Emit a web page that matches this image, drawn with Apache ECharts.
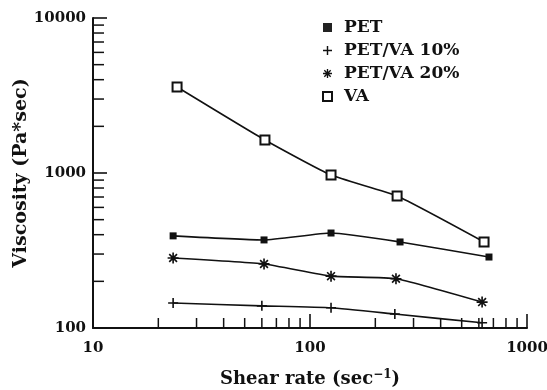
<!DOCTYPE html>
<html>
<head>
<meta charset="utf-8">
<script src="https://cdn.jsdelivr.net/npm/echarts@6/dist/echarts.min.js"></script>
<style>
html,body{margin:0;padding:0;background:#fff;}
#chart{width:547px;height:390px;}
</style>
</head>
<body>
<div id="chart"></div>
<script>
// ---- data ----
const seriesNames = ['PET', 'PET/VA 10%', 'PET/VA 20%', 'VA'];
const petRate = [23.4, 61.4, 125, 260, 668];
const petVisc = [393, 370, 410, 359, 287];
const va10Rate = [23.4, 60, 125, 246, 621];
const va10Visc = [145, 139, 135, 123, 108];
const va20Rate = [23.4, 61.4, 125, 249, 621];
const va20Visc = [283, 259, 216, 208, 147];
const vaRate = [24.4, 62, 125, 252, 634];
const vaVisc = [3590, 1633, 970, 711, 359];
const xMinorTicks = [20, 30, 40, 50, 60, 70, 80, 90, 200, 300, 400, 500, 600, 700, 800, 900];
const yMinorTicks = [200, 300, 400, 500, 600, 700, 800, 900, 2000, 3000, 4000, 5000, 6000, 7000, 8000, 9000];

const FONT = 'DejaVu Serif';
const PLUS = 'path://M-0.8,-5 L0.8,-5 L0.8,-0.8 L5,-0.8 L5,0.8 L0.8,0.8 L0.8,5 L-0.8,5 L-0.8,0.8 L-5,0.8 L-5,-0.8 L-0.8,-0.8 Z';
const STAR = 'path://M-5,-0.75 L5,-0.75 L5,0.75 L-5,0.75 Z M0.75,-5 L0.75,5 L-0.75,5 L-0.75,-5 Z ' +
  'M-3.01,-4.07 L4.07,3.01 L3.01,4.07 L-4.07,-3.01 Z M-4.07,3.01 L3.01,-4.07 L4.07,-3.01 L-3.01,4.07 Z';

function pairs(xs, ys) { return xs.map((x, i) => [x, ys[i]]); }

function lineSeries(name, xs, ys, symbol, size) {
  return {
    name: name, type: 'line', data: pairs(xs, ys),
    smooth: 0.15, symbol: symbol, symbolSize: size, showAllSymbol: true,
    lineStyle: { color: '#111', width: 1.6 },
    itemStyle: { color: '#111', borderColor: '#111', borderWidth: 0 },
    emphasis: { disabled: true }, z: 3
  };
}

const chart = echarts.init(document.getElementById('chart'), null, { renderer: 'canvas' });
chart.setOption({
  animation: false,
  backgroundColor: '#fff',
  grid: { left: 93, right: 20, top: 18, bottom: 62, containLabel: false, outerBoundsMode: 'none' },
  legend: {
    orient: 'vertical', left: 322, top: 19, itemGap: 6, padding: 0,
    itemWidth: 9, itemHeight: 9, selectedMode: false,
    textStyle: { fontFamily: FONT, fontSize: 17, fontWeight: 'bold', color: '#111', lineHeight: 16, padding: [0, 0, 0, 7] },
    data: [
      { name: 'PET', icon: 'rect', itemStyle: { color: '#222', borderWidth: 0 } },
      { name: 'PET/VA 10%', icon: PLUS, itemStyle: { color: '#111', borderWidth: 0 } },
      { name: 'PET/VA 20%', icon: STAR, itemStyle: { color: '#111', borderWidth: 0 } },
      { name: 'VA', icon: 'emptyRect', itemStyle: { color: '#111', borderColor: '#111', borderWidth: 1.4 } }
    ]
  },
  xAxis: {
    type: 'log', logBase: 10, min: 10, max: 1000,
    name: 'Shear rate (sec{sup|−1})', nameLocation: 'middle', nameGap: 41,
    nameTextStyle: {
      fontFamily: FONT, fontSize: 18, fontWeight: 'bold', color: '#111',
      rich: { sup: { fontFamily: FONT, fontSize: 12, fontWeight: 'bold', color: '#111', verticalAlign: 'top', padding: [0, 0, 8, 0] } }
    },
    axisLine: { lineStyle: { color: '#111', width: 2 } },
    axisTick: { inside: true, length: 14, lineStyle: { color: '#111', width: 1.6 } },
    axisLabel: { fontFamily: FONT, fontSize: 15, fontWeight: 'bold', color: '#111', margin: 13, formatter: v => String(Math.round(v)) },
    splitLine: { show: false }
  },
  yAxis: {
    type: 'log', logBase: 10, min: 100, max: 10000,
    name: 'Viscosity (Pa*sec)', nameLocation: 'middle', nameGap: 62, nameRotate: 90, nameMoveOverlap: false,
    nameTextStyle: { fontFamily: FONT, fontSize: 19, fontWeight: 'bold', color: '#111' },
    axisLine: { lineStyle: { color: '#111', width: 2 } },
    axisTick: { inside: true, length: 14, lineStyle: { color: '#111', width: 1.6 } },
    axisLabel: { fontFamily: FONT, fontSize: 15, fontWeight: 'bold', color: '#111', margin: 7, formatter: v => String(Math.round(v)) },
    splitLine: { show: false }
  },
  series: [
    lineSeries('PET', petRate, petVisc, 'rect', 7),
    lineSeries('PET/VA 10%', va10Rate, va10Visc, PLUS, 10),
    lineSeries('PET/VA 20%', va20Rate, va20Visc, STAR, 11),
    Object.assign(lineSeries('VA', vaRate, vaVisc, 'emptyRect', 9), { itemStyle: { color: '#111', borderColor: '#111', borderWidth: 1.4 } }),
    {
      type: 'custom', silent: true, clip: false, z: 5,
      data: xMinorTicks.map(v => [v, 100]),
      renderItem: function (params, api) {
        const p = api.coord([api.value(0), api.value(1)]);
        return { type: 'line', shape: { x1: p[0], y1: p[1], x2: p[0], y2: p[1] - 10 }, style: { stroke: '#111', lineWidth: 1.5 } };
      }
    },
    {
      type: 'custom', silent: true, clip: false, z: 5,
      data: yMinorTicks.map(v => [10, v]),
      renderItem: function (params, api) {
        const p = api.coord([api.value(0), api.value(1)]);
        return { type: 'line', shape: { x1: p[0], y1: p[1], x2: p[0] + 11, y2: p[1] }, style: { stroke: '#111', lineWidth: 1.5 } };
      }
    }
  ]
});
</script>
</body>
</html>
